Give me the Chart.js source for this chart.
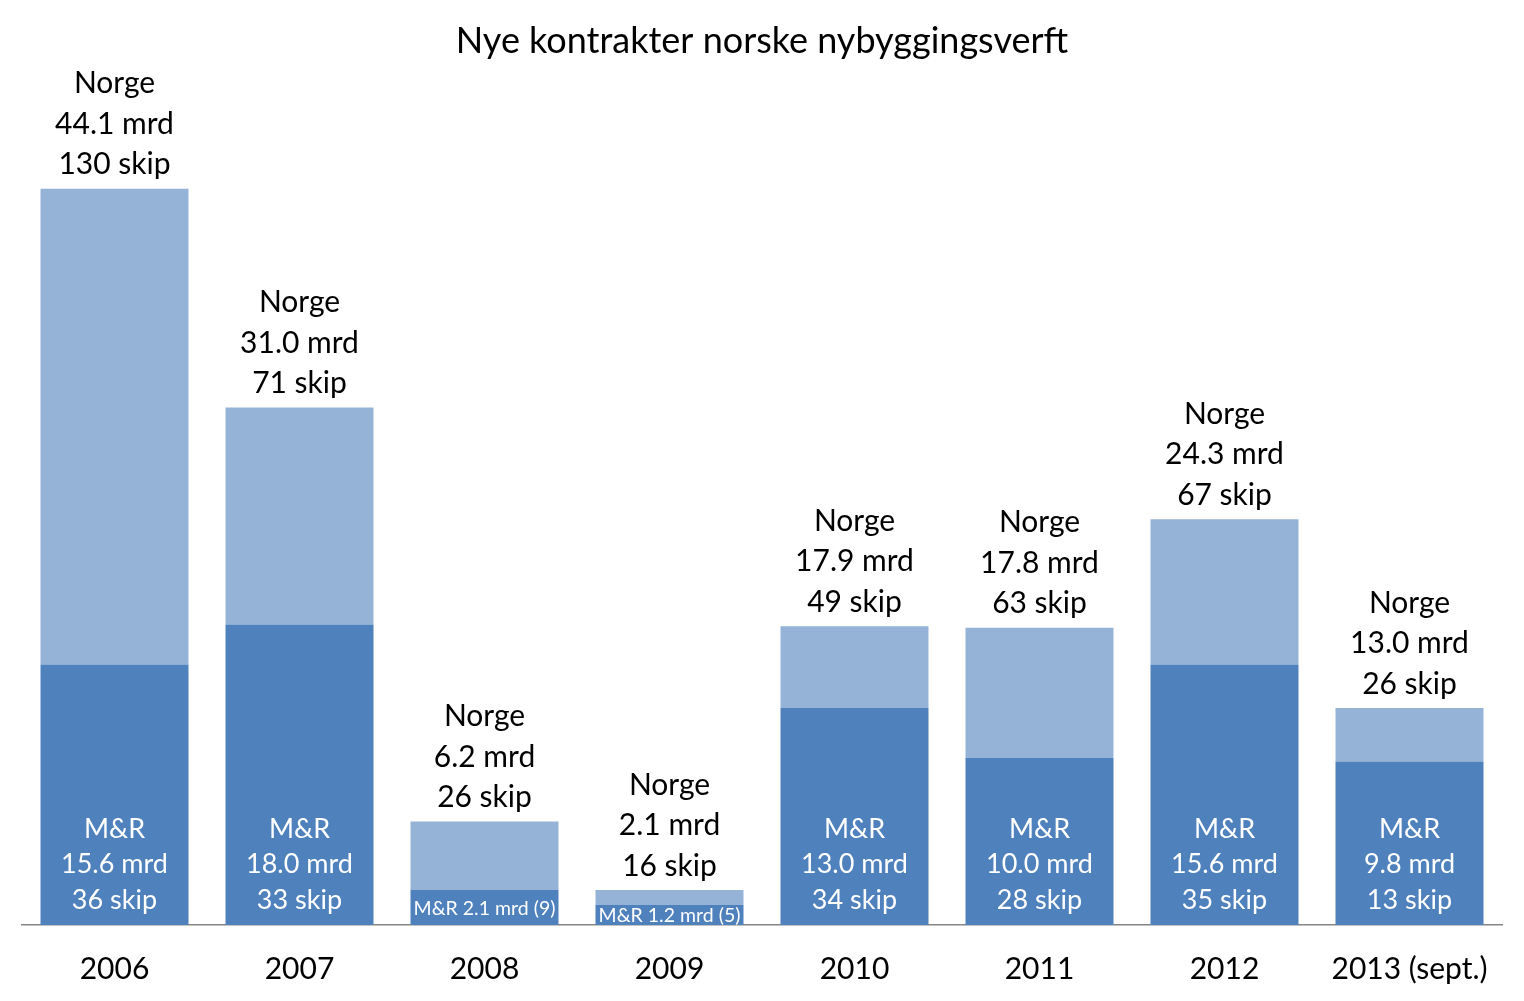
<!DOCTYPE html>
<html>
<head>
<meta charset="utf-8">
<script src="https://cdn.jsdelivr.net/npm/chart.js@4"></script>
<style>
  body { margin: 0; background: #fff; }
  #wrap { width: 1524px; height: 1001px; }
</style>
</head>
<body>
<div id="wrap"><canvas id="chart"></canvas></div>
<script>
var years = ['2006', '2007', '2008', '2009', '2010', '2011', '2012', '2013 (sept.)'];
// Norge totalt (mrd NOK) og antall skip
var norgeMrd = [44.1, 31.0, 6.2, 2.1, 17.9, 17.8, 24.3, 13.0];
var norgeSkip = [130, 71, 26, 16, 49, 63, 67, 26];
// Møre og Romsdal (del av Norge)
var mrMrd = [15.6, 18.0, 2.1, 1.2, 13.0, 10.0, 15.6, 9.8];
var mrSkip = [36, 33, 9, 5, 34, 28, 35, 13];

var restMrd = [];
for (var i = 0; i < norgeMrd.length; i++) {
    restMrd.push(+(norgeMrd[i] - mrMrd[i]).toFixed(1));
}

var fontName = 'Lato, "Open Sans", sans-serif';

const labelPlugin = {
    id: 'barLabels',
    afterDatasetsDraw(chart) {
        const ctx = chart.ctx;
        const mrMeta = chart.getDatasetMeta(0);
        const restMeta = chart.getDatasetMeta(1);
        ctx.save();
        ctx.textAlign = 'center';
        ctx.textBaseline = 'middle';

        for (var i = 0; i < years.length; i++) {
            var top = restMeta.data[i];
            var mr = mrMeta.data[i];

            // Norge over søylen
            ctx.fillStyle = '#000';
            ctx.font = '30px ' + fontName;
            var lines = ['Norge', norgeMrd[i].toFixed(1) + ' mrd', norgeSkip[i] + ' skip'];
            for (var j = 0; j < lines.length; j++) {
                ctx.fillText(lines[j], top.x, top.y - 24 - (2 - j) * 40.5);
            }

            // M&R inne i søylen
            ctx.fillStyle = '#fff';
            var bottom = mr.base;
            if (bottom - mr.y > 60) {
                ctx.font = '27px ' + fontName;
                var mlines = ['M&R', mrMrd[i].toFixed(1) + ' mrd', mrSkip[i] + ' skip'];
                for (var k = 0; k < mlines.length; k++) {
                    ctx.fillText(mlines[k], mr.x, bottom - 25 - (2 - k) * 35.5);
                }
            } else {
                ctx.font = '19.5px ' + fontName;
                ctx.fillText('M&R ' + mrMrd[i].toFixed(1) + ' mrd (' + mrSkip[i] + ')', mr.x, (mr.y + bottom) / 2 + 1);
            }
        }
        ctx.restore();
    }
};

const ctx = document.getElementById('chart').getContext('2d');
new Chart(ctx, {
    type: 'bar',
    data: {
        labels: years,
        datasets: [{
            label: 'M&R',
            data: mrMrd,
            backgroundColor: '#4F81BD'
        }, {
            label: 'Norge',
            data: restMrd,
            backgroundColor: '#95B3D7'
        }]
    },
    options: {
        responsive: true,
        maintainAspectRatio: false,
        animation: false,
        layout: { padding: { left: 22, right: 22, top: 0, bottom: 0 } },
        datasets: {
            bar: { barPercentage: 0.8, categoryPercentage: 1.0 }
        },
        plugins: {
            legend: { display: false },
            tooltip: { enabled: false },
            title: {
                display: true,
                text: 'Nye kontrakter norske nybyggingsverft',
                color: '#000',
                font: { family: fontName, size: 36, weight: 'normal' },
                padding: { top: 20, bottom: 27 }
            }
        },
        scales: {
            x: {
                stacked: true,
                grid: { display: false, drawTicks: false },
                border: { display: true, color: '#868686', width: 1.5 },
                ticks: {
                    color: '#000',
                    padding: 26,
                    maxRotation: 0,
                    font: { family: fontName, size: 30 }
                },
                afterFit: function (scale) {
                    scale.height = 76;
                }
            },
            y: {
                stacked: true,
                display: false,
                min: 0,
                max: 50
            }
        }
    },
    plugins: [labelPlugin]
});
</script>
</body>
</html>
